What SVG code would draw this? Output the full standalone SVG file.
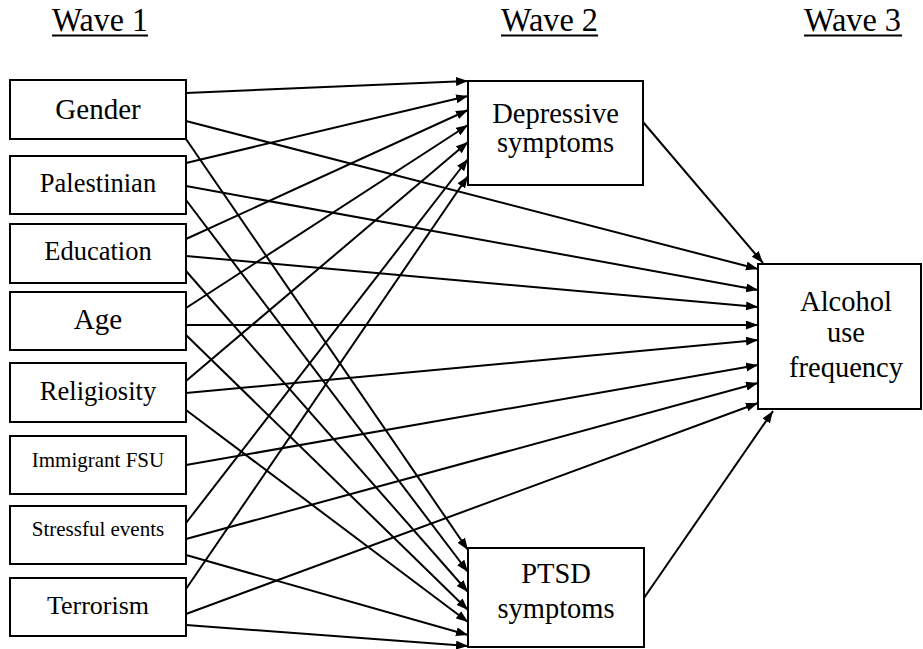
<svg xmlns="http://www.w3.org/2000/svg" width="923" height="649" viewBox="0 0 923 649">
<style>
  .box { fill: #fff; stroke: #000; stroke-width: 2; }
  .t { text-anchor: middle; }
  .ul { stroke: #000; stroke-width: 2; }
  .c line { stroke: #000; stroke-width: 2; marker-end: url(#ah); }
</style>
<defs>
  <marker id="ah" markerUnits="userSpaceOnUse" markerWidth="13" markerHeight="10" refX="12" refY="4.5" orient="auto">
    <path d="M0,0 L12,4.5 L0,9 z" fill="#000"/>
  </marker>
</defs>
<rect width="923" height="649" fill="#fff"/>

<g font-family="Liberation Serif, DejaVu Serif, serif" fill="#000">
<g id="titles" font-size="33">
  <text x="52" y="31" textLength="96" lengthAdjust="spacingAndGlyphs">Wave 1</text>
  <line class="ul" x1="52" y1="35.5" x2="148" y2="35.5"/>
  <text x="501" y="31" textLength="97" lengthAdjust="spacingAndGlyphs">Wave 2</text>
  <line class="ul" x1="501" y1="35.5" x2="598" y2="35.5"/>
  <text x="804" y="31" textLength="97" lengthAdjust="spacingAndGlyphs">Wave 3</text>
  <line class="ul" x1="804" y1="35.5" x2="902" y2="35.5"/>
</g>

<g class="c" id="connectors">
  <line x1="186" y1="93" x2="468" y2="81"/>
  <line x1="186" y1="163" x2="468" y2="96"/>
  <line x1="186" y1="239" x2="468" y2="110"/>
  <line x1="186" y1="308" x2="468" y2="125"/>
  <line x1="186" y1="381" x2="468" y2="142"/>
  <line x1="186" y1="523" x2="468" y2="159"/>
  <line x1="186" y1="589" x2="468" y2="176"/>
  <line x1="186" y1="121" x2="758" y2="269"/>
  <line x1="186" y1="186" x2="758" y2="290"/>
  <line x1="186" y1="256" x2="758" y2="307"/>
  <line x1="186" y1="325" x2="758" y2="325"/>
  <line x1="186" y1="393" x2="758" y2="340"/>
  <line x1="186" y1="465" x2="758" y2="365"/>
  <line x1="186" y1="539" x2="758" y2="383"/>
  <line x1="186" y1="614" x2="758" y2="403"/>
  <line x1="186" y1="139" x2="468" y2="550"/>
  <line x1="186" y1="200" x2="468" y2="572"/>
  <line x1="186" y1="271" x2="468" y2="592"/>
  <line x1="186" y1="335" x2="468" y2="610"/>
  <line x1="186" y1="410" x2="468" y2="622"/>
  <line x1="186" y1="555" x2="468" y2="635"/>
  <line x1="186" y1="625" x2="468" y2="646"/>
  <line x1="643" y1="122" x2="763" y2="263"/>
  <line x1="644" y1="598" x2="773" y2="411"/>
</g>

<g id="gender"><rect class="box" x="10" y="80" width="176" height="59"/><text class="t" x="98" y="119" font-size="29">Gender</text></g>
<g id="palestinian"><rect class="box" x="10" y="156" width="176" height="58"/><text class="t" x="98" y="192" font-size="26.5">Palestinian</text></g>
<g id="education"><rect class="box" x="10" y="224" width="176" height="59"/><text class="t" x="98" y="260" font-size="26.5">Education</text></g>
<g id="age"><rect class="box" x="10" y="292" width="176" height="58"/><text class="t" x="98" y="329" font-size="29">Age</text></g>
<g id="religiosity"><rect class="box" x="10" y="363" width="176" height="59"/><text class="t" x="98" y="400" font-size="26.5">Religiosity</text></g>
<g id="immigrant"><rect class="box" x="10" y="436" width="176" height="58"/><text class="t" x="98" y="467" font-size="21">Immigrant FSU</text></g>
<g id="stressful"><rect class="box" x="10" y="506" width="176" height="58"/><text class="t" x="98" y="536" font-size="21">Stressful events</text></g>
<g id="terrorism"><rect class="box" x="10" y="578" width="176" height="58"/><text class="t" x="98" y="614" font-size="26">Terrorism</text></g>

<g id="depressive"><rect class="box" x="468" y="81" width="175" height="104"/>
  <text class="t" x="555.5" y="123" font-size="28.5">Depressive</text>
  <text class="t" x="555.5" y="152" font-size="28.5">symptoms</text></g>
<g id="ptsd"><rect class="box" x="468" y="548" width="176" height="99"/>
  <text class="t" x="556" y="583" font-size="28.5">PTSD</text>
  <text class="t" x="556" y="618" font-size="28.5">symptoms</text></g>
<g id="alcohol"><rect class="box" x="758" y="264" width="163" height="145"/>
  <text class="t" x="846" y="311" font-size="28.5">Alcohol</text>
  <text class="t" x="846" y="342" font-size="28.5">use</text>
  <text class="t" x="846" y="377" font-size="28.5">frequency</text></g>
</g>
</svg>
